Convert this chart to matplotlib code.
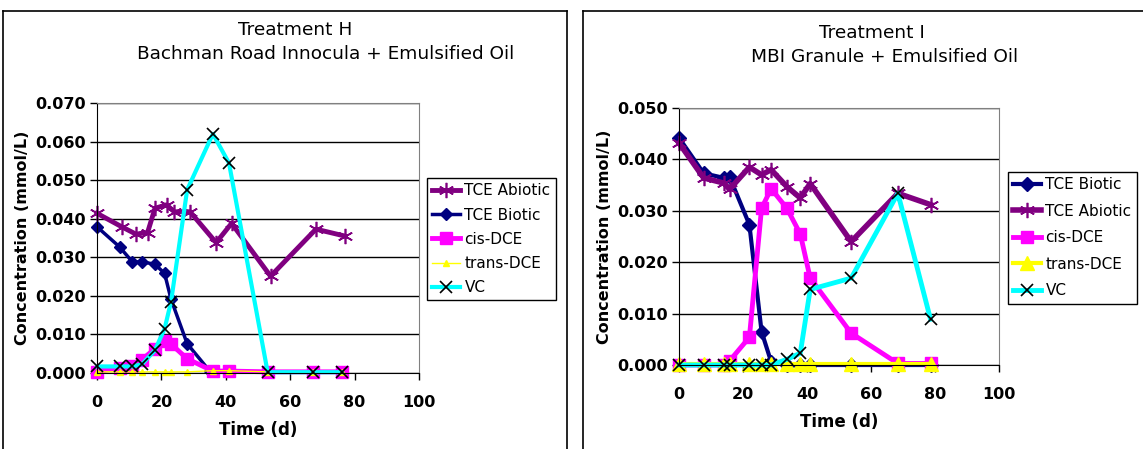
import numpy as np
import matplotlib
matplotlib.use('Agg')
import matplotlib.pyplot as plt
from matplotlib.lines import Line2D
from matplotlib.ticker import FormatStrFormatter, MultipleLocator

plt.rcParams['font.family'] = 'DejaVu Sans'

W, H = 1143, 449

# ---- Treatment H data ----
h_abiotic_days = [0, 7.7, 12.1, 15.7, 18, 21.6, 24, 28.9, 37, 41.8, 53.9, 68, 77]
h_abiotic = [0.0414, 0.0379, 0.0360, 0.0364, 0.0427, 0.0436, 0.0418, 0.0418,
             0.0338, 0.0388, 0.0251, 0.0373, 0.0355]
h_biotic_days = [0, 7, 11, 14, 18, 21, 23, 28, 35]
h_biotic = [0.0379, 0.0327, 0.0288, 0.0288, 0.0282, 0.0258, 0.0191, 0.0076, 0.0005]
h_days = [0, 7, 11, 14, 18, 21, 23, 28, 36, 41, 53, 67, 76]
h_cis = [0.0003, 0.0014, 0.0017, 0.0035, 0.0063, 0.0083, 0.0075, 0.0037,
         0.0005, 0.0005, 0.0003, 0.0003, 0.0003]
h_trans = [0.0003, 0.0003, 0.0003, 0.0003, 0.0003, 0.0003, 0.0003, 0.0003,
           0.0006, 0.0006, 0.0003, 0.0003, 0.0003]
h_vc = [0.0017, 0.0017, 0.0017, 0.0023, 0.0059, 0.0115, 0.0185, 0.0475,
        0.0620, 0.0544, 0.0002, 0.0002, 0.0002]

# ---- Treatment I data ----
i_days = [0, 7.7, 14, 15.8, 22, 25.8, 28.8, 33.7, 37.9, 41, 53.8, 68.4, 78.6]
i_biotic = [0.0442, 0.0373, 0.0364, 0.0366, 0.0273, 0.0065, 0.0006,
            0.0, 0.0, 0.0, 0.0, 0.0, 0.0]
i_abiotic = [0.0432, 0.0364, 0.0354, 0.0342, 0.0385, 0.0370, 0.0380,
             0.0347, 0.0325, 0.0353, 0.0240, 0.0334, 0.0312]
i_cis = [0.0, 0.0, 0.0, 0.0008, 0.0054, 0.0305, 0.0343, 0.0305, 0.0255,
         0.0169, 0.0062, 0.0003, 0.0003]
i_trans = [0.0002] * 13
i_vc = [0.0, 0.0, 0.0, 0.0, 0.0, 0.0, 0.0, 0.0011, 0.0023, 0.0147,
        0.0169, 0.0334, 0.0089]

xticks = [0, 20, 40, 60, 80, 100]

PURPLE, NAVY, MAGENTA, YELLOW, CYAN = '#800080', '#000080', '#FF00FF', '#FFFF00', '#00FFFF'
ASTER = (6, 2, 0)

fig = plt.figure(figsize=(W / 100, H / 100), dpi=100)


def fx(px):
    return px / W


def fy(py):
    return 1 - py / H


def style_axes(ax, ymax):
    ax.set_xlim(0, 100)
    ax.set_ylim(0, ymax)
    ax.set_xticks(xticks)
    ax.yaxis.set_major_locator(MultipleLocator(0.01))
    ax.yaxis.set_major_formatter(FormatStrFormatter('%.3f'))
    ax.grid(axis='y', color='black', lw=1)
    ax.set_axisbelow(True)
    ax.tick_params(labelsize=11.5, length=5, width=1, color='black', pad=3)
    ax.tick_params(axis='x', pad=11)
    for lab in ax.get_xticklabels() + ax.get_yticklabels():
        lab.set_fontweight('bold')
    for s in ['top', 'right']:
        ax.spines[s].set_color('#808080')
    for s in ['left', 'bottom']:
        ax.spines[s].set_color('black')
    ax.set_xlabel('Time (d)', fontsize=12, fontweight='bold', labelpad=8)
    ax.set_ylabel('Concentration (mmol/L)', fontsize=11.5, fontweight='bold',
                  labelpad=4)


# left chart
ax1 = fig.add_axes([fx(97), fy(373), fx(419 - 97), (373 - 103) / H])
ax1.plot(h_abiotic_days, h_abiotic, color=PURPLE, lw=3.5, marker=ASTER, ms=11,
         mec=PURPLE, mew=1.2, label='TCE Abiotic', clip_on=False)
ax1.plot(h_biotic_days, h_biotic, color=NAVY, lw=2.5, marker='D', ms=6,
         mfc=NAVY, mec=NAVY, label='TCE Biotic', clip_on=False)
ax1.plot(h_days, h_cis, color=MAGENTA, lw=3.5, marker='s', ms=9,
         mfc=MAGENTA, mec=MAGENTA, label='cis-DCE', clip_on=False)
ax1.plot(h_days, h_trans, color=YELLOW, lw=1, marker='^', ms=5,
         mfc=YELLOW, mec=YELLOW, label='trans-DCE', clip_on=False)
ax1.plot(h_days, h_vc, color=CYAN, lw=3, marker='x', ms=9,
         mec='black', mew=1.2, label='VC', clip_on=False)
style_axes(ax1, 0.07)

# right chart
ax2 = fig.add_axes([fx(679), fy(365), fx(999 - 679), (365 - 108) / H])
ax2.plot(i_days, i_biotic, color=NAVY, lw=3, marker='D', ms=7,
         mfc=NAVY, mec=NAVY, label='TCE Biotic', clip_on=False)
ax2.plot(i_days, i_abiotic, color=PURPLE, lw=4, marker=ASTER, ms=11,
         mec=PURPLE, mew=1.2, label='TCE Abiotic', clip_on=False)
ax2.plot(i_days, i_cis, color=MAGENTA, lw=3.5, marker='s', ms=9,
         mfc=MAGENTA, mec=MAGENTA, label='cis-DCE', clip_on=False)
ax2.plot(i_days, i_trans, color=YELLOW, lw=3, marker='^', ms=10,
         mfc=YELLOW, mec=YELLOW, label='trans-DCE', clip_on=False)
ax2.plot(i_days, i_vc, color=CYAN, lw=3.5, marker='x', ms=9,
         mec='black', mew=1.2, label='VC', clip_on=False)
style_axes(ax2, 0.05)

# titles
fig.text(fx(295), fy(30), 'Treatment H', ha='center', va='center', fontsize=13.3)
fig.text(fx(326), fy(54), 'Bachman Road Innocula + Emulsified Oil',
         ha='center', va='center', fontsize=13.3)
fig.text(fx(872), fy(33), 'Treatment I', ha='center', va='center', fontsize=13.3)
fig.text(fx(885), fy(57), 'MBI Granule + Emulsified Oil',
         ha='center', va='center', fontsize=13.3)

# legends
for ax, x0, y0, sp in [(ax1, 427, 178, 0.6), (ax2, 1008, 172, 0.75)]:
    h, l = ax.get_legend_handles_labels()
    fig.legend(h, l, loc='upper left', bbox_to_anchor=(fx(x0), fy(y0)),
               fontsize=11, frameon=True, fancybox=False, framealpha=1,
               edgecolor='black', borderpad=0.35, labelspacing=sp,
               handlelength=1.8, handletextpad=0.3, borderaxespad=0)

# panel frames
frame_kw = dict(color='black', lw=1.2, transform=fig.transFigure)
fig.add_artist(Line2D([fx(3), fx(3)], [0, fy(11)], **frame_kw))
fig.add_artist(Line2D([fx(3), fx(567)], [fy(11), fy(11)], **frame_kw))
fig.add_artist(Line2D([fx(567), fx(567)], [0, fy(11)], **frame_kw))
fig.add_artist(Line2D([fx(583), fx(583)], [0, fy(11)], **frame_kw))
fig.add_artist(Line2D([fx(583), 1], [fy(11), fy(11)], **frame_kw))

fig.savefig('out.png', dpi=100)
